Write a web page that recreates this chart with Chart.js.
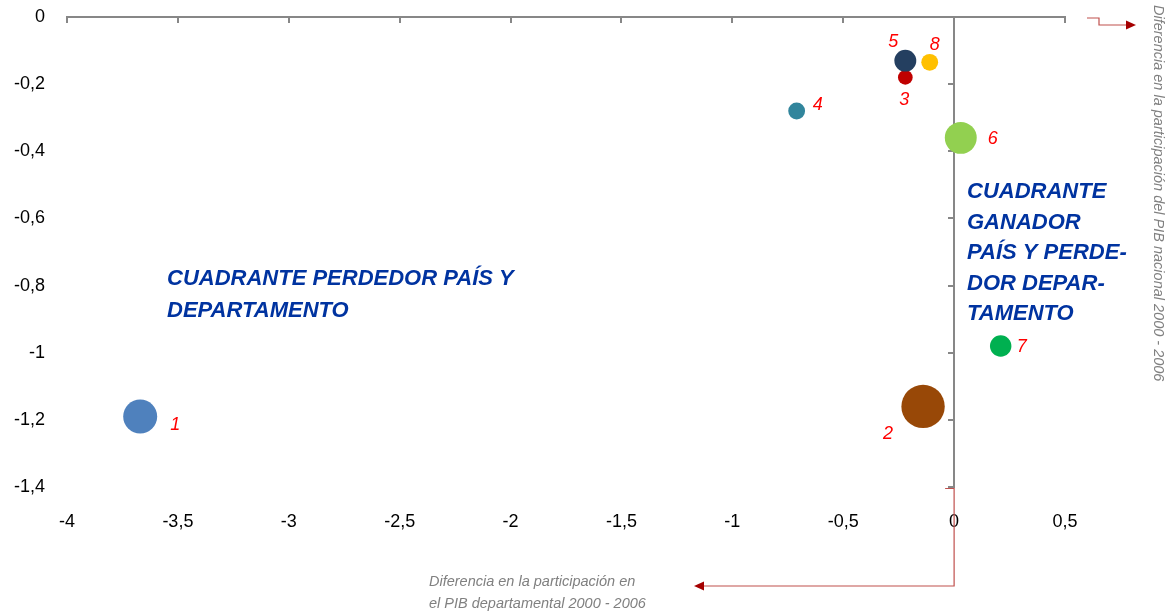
<!DOCTYPE html>
<html>
<head>
<meta charset="utf-8">
<script src="https://cdn.jsdelivr.net/npm/chart.js@4.4.1/dist/chart.umd.min.js"></script>
<style>
  body { margin: 0; background: #fff; }
  #wrap { width: 1176px; height: 615px; }
</style>
</head>
<body>
<div id="wrap"><canvas id="grafico" width="1176" height="615"></canvas></div>
<script>
// departamentos 1..8
const etiquetas = ['1', '2', '3', '4', '5', '6', '7', '8']
// diferencia en la participacion en el PIB departamental 2000 - 2006 (eje x)
const difDepartamental = [-3.67, -0.14, -0.22, -0.71, -0.22, 0.03, 0.21, -0.11]
// diferencia en la participacion del PIB nacional 2000 - 2006 (eje y)
const difNacional = [-1.19, -1.16, -0.18, -0.28, -0.13, -0.36, -0.98, -0.135]
// tamaño de la burbuja
const peso = [5.9, 9.6, 1.1, 1.45, 2.45, 5.2, 2.35, 1.45]
const colores = ['#4f81bd', '#984807', '#c00000', '#31859c', '#243f60', '#92d050', '#00b050', '#ffc000']

const ticksX = { min: -4, max: 0.5, paso: 0.5 }
const ticksY = { min: -1.4, max: 0, paso: 0.2 }

// desplazamiento de cada numero respecto a su burbuja
const offsets = [[35, 8], [-35, 28], [-1, 23], [21, -6], [-12, -19], [32, 1], [21, 1], [5, -17]]

const coma = v => {
    const r = Math.round(v * 10) / 10
    return (r === 0 ? '0' : String(r)).replace('.', ',')
}

const puntos = etiquetas.map((e, i) => ({
    x: difDepartamental[i],
    y: difNacional[i],
    r: 7 * Math.sqrt(peso[i])
}))

const sinRelleno = s => {
    s.paddingTop = 0
    s.paddingBottom = 0
    s.paddingLeft = 0
    s.paddingRight = 0
}

const anotaciones = {
    id: 'anotaciones',
    afterDatasetsDraw(chart) {
        const ctx = chart.ctx
        const meta = chart.getDatasetMeta(0)
        const area = chart.chartArea
        const x0 = chart.scales.x.getPixelForValue(0)

        ctx.save()
        // numeros rojos
        ctx.fillStyle = '#ff0000'
        ctx.font = 'italic 18px "Liberation Sans", Arial, sans-serif'
        ctx.textAlign = 'center'
        ctx.textBaseline = 'middle'
        meta.data.forEach((el, i) => {
            ctx.fillText(etiquetas[i], el.x + offsets[i][0], el.y + offsets[i][1])
        })

        // textos de cuadrante
        ctx.fillStyle = '#0033a0'
        ctx.font = 'italic bold 22px "Liberation Sans", Arial, sans-serif'
        ctx.textAlign = 'left'
        ctx.fillText('CUADRANTE PERDEDOR PAÍS Y', 167, 279)
        ctx.fillText('DEPARTAMENTO', 167, 311)
        const der = ['CUADRANTE', 'GANADOR', 'PAÍS Y PERDE-', 'DOR DEPAR-', 'TAMENTO']
        der.forEach((t, i) => ctx.fillText(t, 967, 192 + i * 30.5))

        // titulos de los ejes
        ctx.fillStyle = '#808080'
        ctx.font = 'italic 14.5px "Liberation Sans", Arial, sans-serif'
        ctx.fillText('Diferencia en la participación en', 429, 582)
        ctx.fillText('el PIB departamental 2000 - 2006', 429, 604)
        ctx.save()
        ctx.translate(1158, 5)
        ctx.rotate(Math.PI / 2)
        ctx.fillText('Diferencia en la participación del PIB nacional 2000 - 2006', 0, 0)
        ctx.restore()

        // flechas rojas
        ctx.strokeStyle = '#c0504d'
        ctx.lineWidth = 1.2
        ctx.beginPath()
        ctx.moveTo(x0 - 9, area.bottom + 1.5)
        ctx.lineTo(x0, area.bottom + 1.5)
        ctx.lineTo(x0, 586)
        ctx.lineTo(702, 586)
        ctx.stroke()
        ctx.beginPath()
        ctx.moveTo(area.right + 22, area.top + 1)
        ctx.lineTo(area.right + 34, area.top + 1)
        ctx.lineTo(area.right + 34, area.top + 8)
        ctx.lineTo(area.right + 62, area.top + 8)
        ctx.stroke()

        ctx.fillStyle = '#a50000'
        ctx.beginPath()
        ctx.moveTo(694, 586)
        ctx.lineTo(704, 581.5)
        ctx.lineTo(704, 590.5)
        ctx.closePath()
        ctx.fill()
        ctx.beginPath()
        ctx.moveTo(area.right + 71, area.top + 8)
        ctx.lineTo(area.right + 61, area.top + 3.5)
        ctx.lineTo(area.right + 61, area.top + 12.5)
        ctx.closePath()
        ctx.fill()
        ctx.restore()
    }
}

const fuenteTicks = { family: '"Liberation Sans", Arial, sans-serif', size: 18 }
const gris = '#878787'

new Chart(document.getElementById('grafico'), {
    type: 'bubble',
    data: {
        datasets: [{
            data: puntos,
            backgroundColor: colores,
            borderWidth: 0,
            hoverBorderWidth: 0,
            xAxisID: 'x',
            yAxisID: 'y'
        }]
    },
    options: {
        responsive: false,
        animation: false,
        events: [],
        layout: { autoPadding: false, padding: { left: 0, top: 17, right: 111, bottom: 0 } },
        plugins: {
            legend: { display: false },
            tooltip: { enabled: false }
        },
        scales: {
            x: {
                type: 'linear',
                position: { y: 0 },
                min: ticksX.min, max: ticksX.max,
                afterFit: s => { s.height = 0; sinRelleno(s) },
                ticks: { display: false, stepSize: ticksX.paso },
                grid: { drawOnChartArea: false, drawTicks: true, tickLength: 5, color: gris, lineWidth: 2 },
                border: { color: gris, width: 2 }
            },
            y: {
                type: 'linear',
                position: { x: 0 },
                min: ticksY.min, max: ticksY.max,
                afterFit: s => { s.width = 0; sinRelleno(s) },
                ticks: { display: false, stepSize: ticksY.paso },
                grid: { drawOnChartArea: false, drawTicks: true, tickLength: 5, color: gris, lineWidth: 2 },
                border: { color: gris, width: 2 }
            },
            xl: {
                axis: 'x',
                type: 'linear',
                position: 'bottom',
                min: ticksX.min, max: ticksX.max,
                afterFit: s => { s.height = 128; sinRelleno(s) },
                ticks: { stepSize: ticksX.paso, padding: 24, color: '#000', font: fuenteTicks, callback: v => coma(v), maxRotation: 0 },
                grid: { display: false, drawTicks: false },
                border: { display: false }
            },
            yl: {
                axis: 'y',
                type: 'linear',
                position: 'left',
                min: ticksY.min, max: ticksY.max,
                afterFit: s => { s.width = 67; sinRelleno(s) },
                ticks: { stepSize: ticksY.paso, padding: 22, color: '#000', font: fuenteTicks, callback: v => coma(v) },
                grid: { display: false, drawTicks: false },
                border: { display: false }
            }
        }
    },
    plugins: [anotaciones]
})
</script>
</body>
</html>
